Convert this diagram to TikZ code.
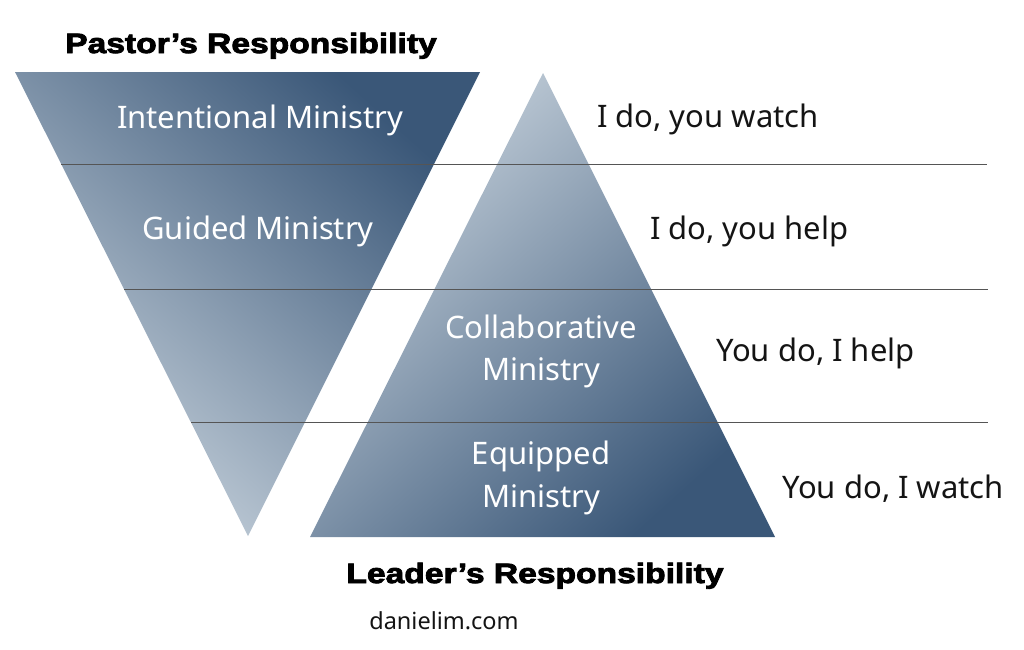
\documentclass[tikz,border=0pt]{standalone}
\usepackage{fontspec}
\setmainfont{Noto Sans}
\newfontfamily\titlefont{Liberation Sans}[FakeStretch=1.2,FakeBold=3]
\definecolor{darkblue}{RGB}{58,87,120}
\definecolor{lightblue}{RGB}{200,211,221}
\definecolor{ruleg}{RGB}{85,85,85}
\definecolor{txt}{RGB}{20,20,20}
\tikzset{
  inlbl/.style={font=\fontsize{31}{36}\selectfont, text=white, anchor=base, inner sep=0pt},
  rlbl/.style={font=\fontsize{31}{36}\selectfont, text=txt, anchor=base west, inner sep=0pt},
  ttl/.style={font=\titlefont\bfseries\fontsize{28}{32}\selectfont, text=black, anchor=base, inner sep=0pt},
  rulestyle/.style={draw=ruleg, line width=1pt}
}
\begin{document}
\begin{tikzpicture}[x=1pt,y=-1pt]
\useasboundingbox (0,0) rectangle (1024,649);
% inverted triangle
\shade[top color=lightblue, bottom color=darkblue, shading angle=138]
  (15,72) -- (480,72) -- (248,536) -- cycle;
% upright triangle
\shade[top color=lightblue, bottom color=darkblue, shading angle=42]
  (543,73) -- (775,537) -- (310,537) -- cycle;
% rules
\coordinate (r1a) at (61,164);  \coordinate (r1b) at (987,164);
\coordinate (r2a) at (124,289); \coordinate (r2b) at (988,289);
\coordinate (r3a) at (191,422); \coordinate (r3b) at (988,422);
\draw[rulestyle] (r1a) -- (r1b);
\draw[rulestyle] (r2a) -- (r2b);
\draw[rulestyle] (r3a) -- (r3b);
% inside labels
\node[inlbl] (intent) at (260,128) {Intentional Ministry};
\node[inlbl] (guided) at (258,239) {Guided Ministry};
\node[inlbl] (collab) at (541,338) {Collaborative};
\node[inlbl] (collabm) at (541,380) {Ministry};
\node[inlbl] (equip) at (541,464) {Equipped};
\node[inlbl] (equipm) at (541,507) {Ministry};
% right labels
\node[rlbl] (w1) at (597,127) {I do, you watch};
\node[rlbl] (w2) at (650,239) {I do, you help};
\node[rlbl] (w3) at (716,361) {You do, I help};
\node[rlbl] (w4) at (782,498) {You do, I watch};
% titles
\node[ttl] (pastor) at (251,53) {Pastor’s Responsibility};
\node[ttl] (leader) at (535,583) {Leader’s Responsibility};
\node[font=\fontsize{23.5}{28}\selectfont, text=txt, anchor=base, inner sep=0pt] (site) at (444,629) {danielim.com};
\end{tikzpicture}
\end{document}
